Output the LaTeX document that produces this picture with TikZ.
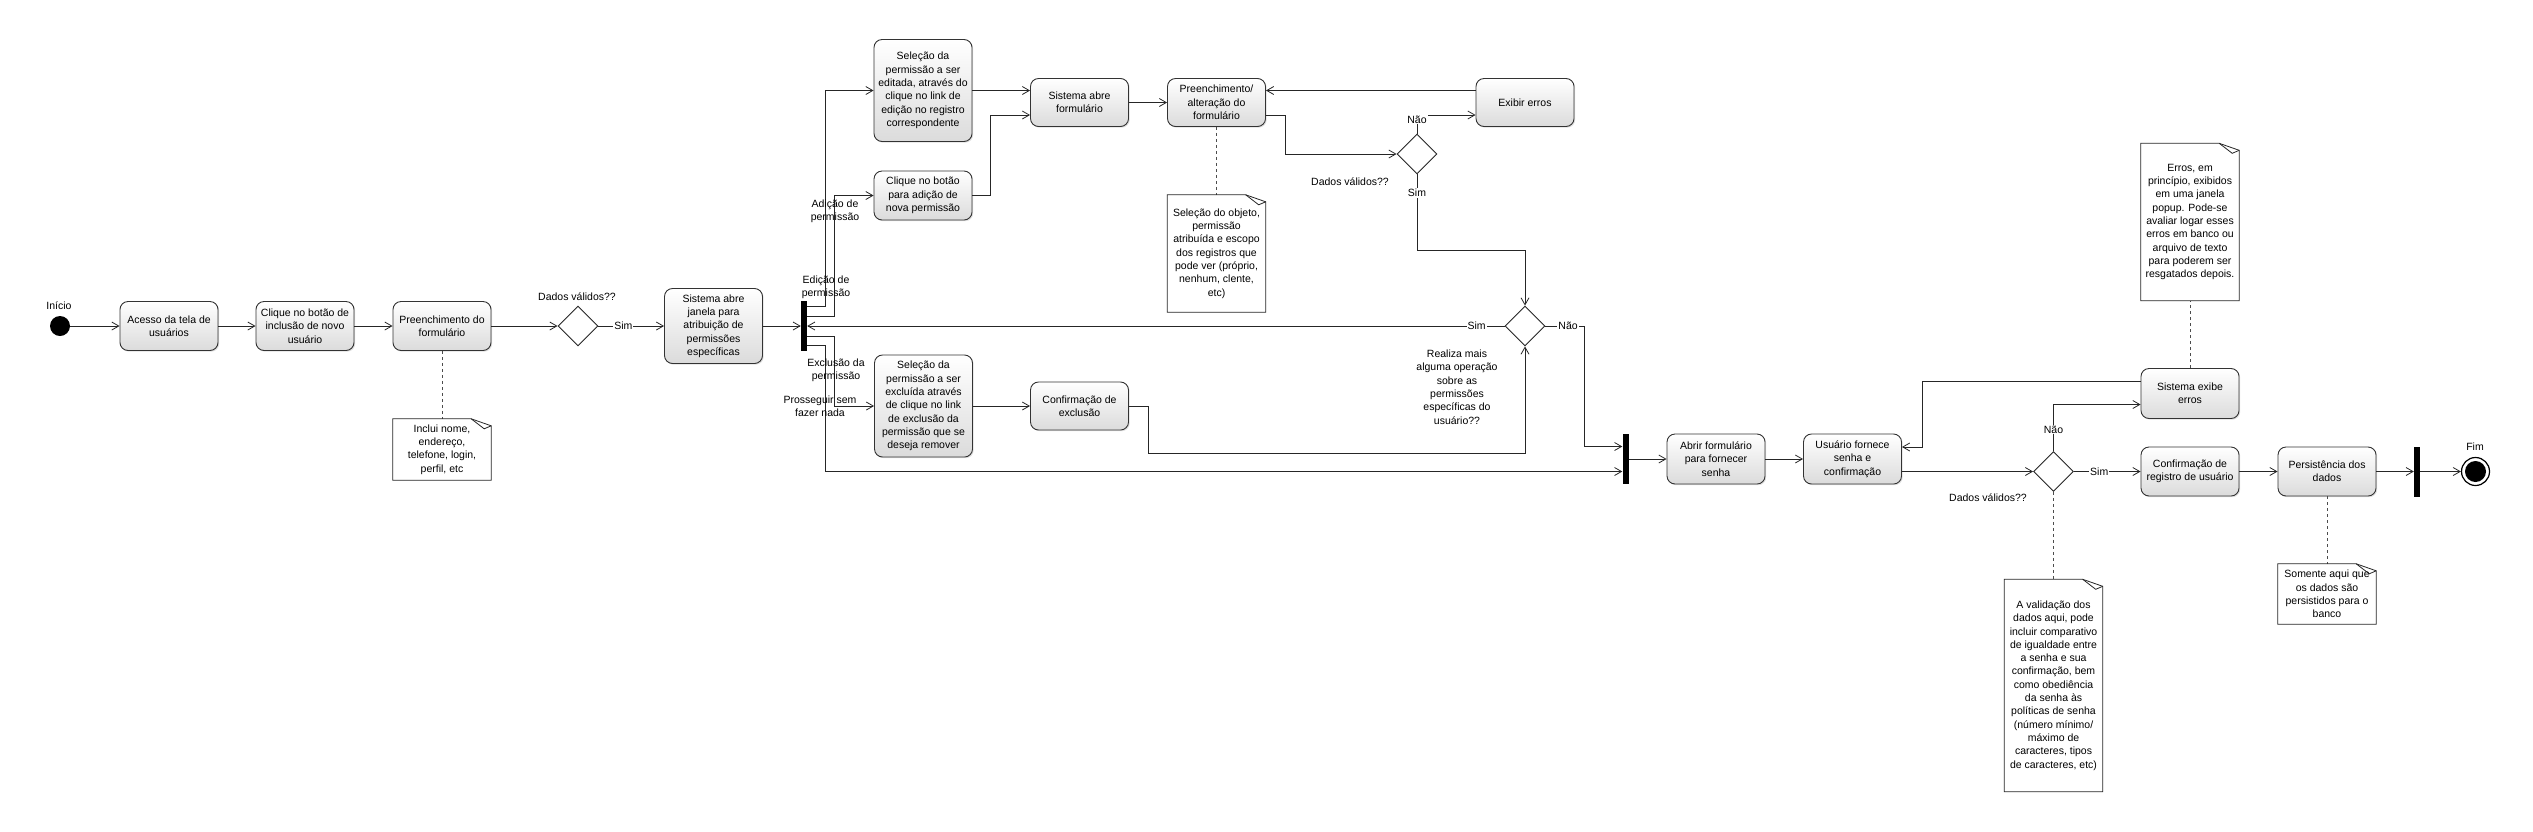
\documentclass[tikz,border=0pt]{standalone}
\usepackage{fontspec}
\setmainfont{Liberation Sans}
\usetikzlibrary{positioning,shapes.geometric,arrows.meta,shadows}

\begin{document}
\begin{tikzpicture}
    [%%%%%%%%%%%%%%%%%%%%%%%%%%%%%%%%%%%%%%%%%%%%%%%%%%%%%%%%%%
        x=1pt,y=-1pt,>={Straight Barb[length=7pt,width=8pt]},
        font=\fontsize{10.5pt}{13.3pt}\selectfont,
        act/.style={rectangle,rounded corners=8pt,draw=black!80,line width=0.9pt,
                    top color=white,bottom color=black!14,align=center,inner sep=2pt,
                    minimum width=98pt,minimum height=49pt,
                    drop shadow={shadow xshift=1.2pt,shadow yshift=-1.2pt,opacity=0.25}},
        note/.style={fill=white,align=center,inner sep=2pt,minimum width=98pt},
        decision/.style={diamond,draw=black!85,line width=0.9pt,fill=white,
                         minimum width=40pt,minimum height=40pt,inner sep=0pt},
        forkbar/.style={rectangle,fill=black,minimum width=6pt,minimum height=50pt,inner sep=0pt},
        flow/.style={->,line width=0.8pt,draw=black!85},
        link/.style={dashed,line width=0.7pt,draw=black!70},
        lbl/.style={fill=white,inner sep=1pt},
        guard/.style={align=center,inner sep=0pt}
    ]%%%%%%%%%%%%%%%%%%%%%%%%%%%%%%%%%%%%%%%%%%%%%%%%%%%%%%%%%%
    \useasboundingbox (0,0) rectangle (2533,831);

    % cadastro do usuario
    \node[circle,fill=black,minimum size=20pt,inner sep=0pt] (start) at (60,326) {};
    \node[guard] (lstart) at (59,306) {Início};
    \node[act] (box1) at (169,326) {Acesso da tela de\\usuários};
    \node[act] (box2) at (305,326) {Clique no botão de\\inclusão de novo\\usuário};
    \node[act] (box3) at (442,326) {Preenchimento do\\formulário};
    \node[note,minimum height=61pt] (note1) at (442,449.5) {Inclui nome,\\endereço,\\telefone, login,\\perfil, etc};
    \node[decision] (d1) at (578,326) {};
    \node[guard] (q1) at (577,297) {Dados válidos??};
    \node[act,minimum height=75pt] (box4) at (713.5,326) {Sistema abre\\janela para\\atribuição de\\permissões\\específicas};
    \node[forkbar] (bar1) at (804,326) {};

    % permissoes
    \node[act,minimum height=102pt] (editsel) at (923,90.5) {Seleção da\\permissão a ser\\editada, através do\\clique no link de\\edição no registro\\correspondente};
    \node[act] (addclick) at (923,195.5) {Clique no botão\\para adição de\\nova permissão};
    \node[act,minimum height=102pt] (delsel) at (923.5,406) {Seleção da\\permissão a ser\\excluída através\\de clique no link\\de exclusão da\\permissão que se\\deseja remover};
    \node[act,minimum height=48pt] (sysform) at (1079.5,102.5) {Sistema abre\\formulário};
    \node[act,minimum height=48pt] (fillform) at (1216.5,102.5) {Preenchimento/\\alteração do\\formulário};
    \node[note,minimum height=117pt] (note2) at (1216.5,253.5) {Seleção do objeto,\\permissão\\atribuída e escopo\\dos registros que\\pode ver (próprio,\\nenhum, clente,\\etc)};
    \node[act,minimum height=48pt] (showerr) at (1525,102.5) {Exibir erros};
    \node[decision] (d2) at (1417,154) {};
    \node[guard] (q2) at (1350,182) {Dados válidos??};
    \node[act,minimum height=48pt] (delconf) at (1079.5,406) {Confirmação de\\exclusão};
    \node[decision] (d3) at (1525,326) {};
    \node[guard] (q3) at (1457,387) {Realiza mais\\alguma operação\\sobre as\\permissões\\específicas do\\usuário??};

    % senha e gravacao
    \node[forkbar] (bar2) at (1625.5,459) {};
    \node[act,minimum height=50pt] (openpwd) at (1716,459) {Abrir formulário\\para fornecer\\senha};
    \node[act,minimum height=50pt] (userpwd) at (1852.5,459) {Usuário fornece\\senha e\\confirmação};
    \node[decision] (d4) at (2053.5,471.5) {};
    \node[guard] (q4) at (1988,498) {Dados válidos??};
    \node[note,minimum height=212pt] (note5) at (2053.5,685.5) {A validação dos\\dados aqui, pode\\incluir comparativo\\de igualdade entre\\a senha e sua\\confirmação, bem\\como obediência\\da senha às\\políticas de senha\\(número mínimo/\\máximo de\\caracteres, tipos\\de caracteres, etc)};
    \node[act,minimum height=50pt] (syserr) at (2190,393.5) {Sistema exibe\\erros};
    \node[note,minimum height=157pt] (note3) at (2190,222) {Erros, em\\princípio, exibidos\\em uma janela\\popup. Pode-se\\avaliar logar esses\\erros em banco ou\\arquivo de texto\\para poderem ser\\resgatados depois.};
    \node[act] (regconf) at (2190,471.5) {Confirmação de\\registro de usuário};
    \node[act] (persist) at (2327,471.5) {Persistência dos\\dados};
    \node[note,minimum height=60pt] (note4) at (2327,594) {Somente aqui que\\os dados são\\persistidos para o\\banco};
    \node[forkbar] (bar3) at (2417,471.5) {};
    \node[circle,draw=black,line width=1.2pt,fill=white,minimum size=28pt,inner sep=0pt,
          path picture={\fill[black] (path picture bounding box.center) circle (10.5pt);}] (stop) at (2475.5,471.5) {};
    \node[guard] (lstop) at (2475,447) {Fim};

    \coordinate (lanea) at (825,0);
    \coordinate (laneb) at (834,0);
    \coordinate (bar2high) at ([yshift=12.5pt]bar2.west);
    \coordinate (bar2low) at ([yshift=-12.5pt]bar2.west);

    % fluxo principal
    \draw[flow] (start) -- (box1);
    \draw[flow] (box1) -- (box2);
    \draw[flow] (box2) -- (box3);
    \draw[flow] (box3) -- (d1);
    \draw[flow] (d1) -- node[lbl,pos=0.38] (simA) {Sim} (box4);
    \draw[flow] (box4) -- (bar1);

    % saidas da barra
    \draw[flow] ([yshift=20pt]bar1.east) -| (lanea |- editsel) -- (editsel);
    \draw[flow] ([yshift=10pt]bar1.east) -| (laneb |- addclick) -- (addclick);
    \draw[flow] ([yshift=-10pt]bar1.east) -| (laneb |- delsel) -- (delsel);
    \draw[flow] ([yshift=-19pt]bar1.east) -| (lanea |- bar2low) -- (bar2low);
    \node[guard] (gedit) at (826,287) {Edição de\\permissão};
    \node[guard] (gadd) at (835,211) {Adição de\\permissão};
    \node[guard] (gdel) at (836,370) {Exclusão da\\permissão};
    \node[guard] (gskip) at (820,406) {Prosseguir sem\\fazer nada};

    \draw[flow] (editsel.east) -- (editsel.east -| sysform.west);
    \draw[flow] (addclick.east) -| ([xshift=-40pt,yshift=-12.5pt]sysform.west) -- ([yshift=-12.5pt]sysform.west);
    \draw[flow] (sysform) -- (fillform);
    \draw[flow] ([yshift=12pt]showerr.west) -- ([yshift=12pt]showerr.west -| fillform.east);
    \draw[flow] ([yshift=-12.5pt]fillform.east) -- ++(19,0) |- (d2);
    \draw[flow] (d2.north) |- node[lbl,pos=0.38] (naoA) {Não} ([yshift=-12.5pt]showerr.west);
    \draw[flow] (d2.south) -- node[lbl,pos=0.24] (simB) {Sim} ++(0,76) -| (d3);
    \draw[flow] (d3.west) -- node[lbl,pos=0.04] (simC) {Sim} (bar1.east);
    \draw[flow] (d3.east) -- node[lbl,pos=0.58] (naoB) {Não} ++(39,0) |- (bar2high);
    \draw[flow] (delsel) -- (delconf);
    \draw[flow] (delconf.east) -- ++(19,0) -- ++(0,47) -| (d3.south);

    % senha
    \draw[flow] (bar2) -- (openpwd);
    \draw[flow] (openpwd) -- (userpwd);
    \draw[flow] ([yshift=-12.5pt]userpwd.east) -- (d4.west);
    \draw[flow] (d4.north) |- node[lbl,pos=0.23] (naoC) {Não} ([yshift=-11pt]syserr.west);
    \draw[flow] ([yshift=12.5pt]syserr.west) -| ([xshift=20pt,yshift=12pt]userpwd.east) -- ([yshift=12pt]userpwd.east);
    \draw[flow] (d4) -- node[lbl,pos=0.38] (simD) {Sim} (regconf);
    \draw[flow] (regconf) -- (persist);
    \draw[flow] (persist) -- (bar3);
    \draw[flow] (bar3) -- (stop);

    % notas
    \draw[link] (box3) -- (note1);
    \draw[link] (fillform) -- (note2);
    \draw[link] (syserr) -- (note3);
    \draw[link] (persist) -- (note4);
    \draw[link] (d4) -- (note5);
    \foreach \nn in {note1,note2,note3,note4,note5}{
        \draw[line width=0.8pt,draw=black!85] (\nn.north west) -- ([xshift=-20pt]\nn.north east)
            -- ([yshift=-7pt]\nn.north east) -- (\nn.south east) -- (\nn.south west) -- cycle;
        \draw[line width=0.8pt,draw=black!85] ([xshift=-20pt]\nn.north east)
            -- ([xshift=-7pt,yshift=-10pt]\nn.north east) -- ([yshift=-7pt]\nn.north east);
    }
\end{tikzpicture}
\end{document}
